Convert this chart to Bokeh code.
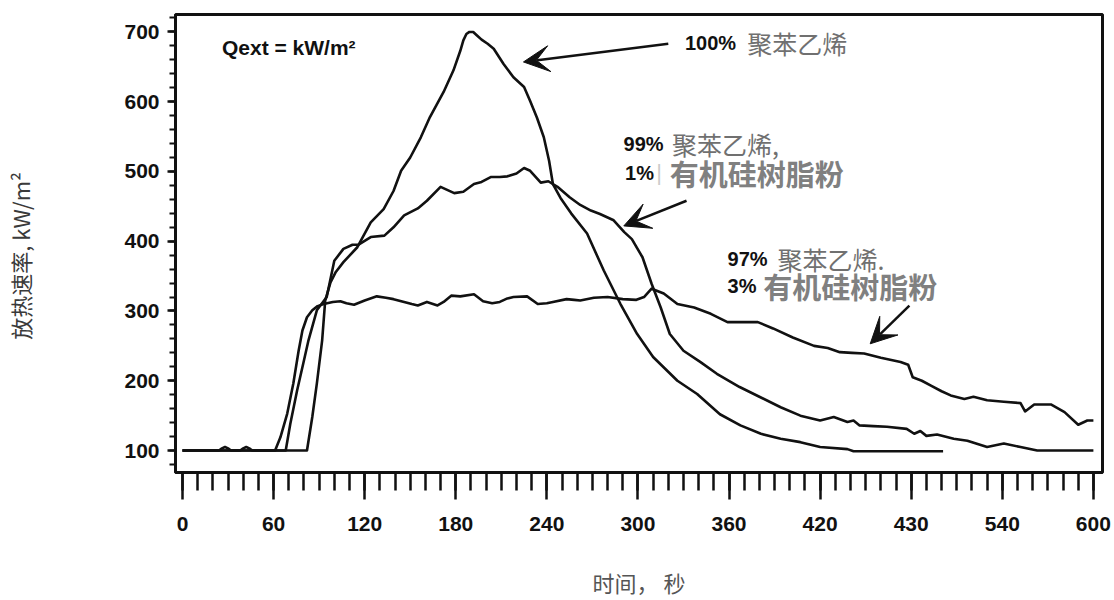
from math import pi
from bokeh.plotting import figure
from bokeh.models import Range1d, SingleIntervalTicker, Label, Arrow, VeeHead
from bokeh.embed import file_html
from bokeh.resources import INLINE

# ---- data (time in s, heat release rate in kW/m2) ----
t100 = [0, 82, 85.5, 88.5, 92, 94, 97.5, 101, 106, 115,
        124, 132.5, 139, 144, 150, 157, 163, 172, 178.5, 183,
        185, 187, 189, 191.5, 194, 197, 201, 205, 211.5, 218,
        225, 229, 233.5, 238, 241.5, 244, 249, 256, 266.5, 277.5,
        288.5, 299.5, 310, 326, 339, 354, 367.5, 381, 394, 407,
        420, 438, 442, 501]
q100 = [100, 100, 148, 196, 258, 315, 341, 356, 370, 391,
        427, 446, 472, 501, 520, 549, 578, 614, 645, 673,
        688, 697, 700, 700, 695, 689, 683, 676, 654, 635,
        621, 601, 577, 549, 515, 482, 462, 440, 411, 358,
        310, 267, 234, 200, 181, 152, 136, 124, 117, 112,
        105, 102, 99, 99]

t99 = [0, 68, 71, 75.5, 80, 83, 88.5, 95, 100, 106,
       112, 116, 124, 133, 139, 146, 155, 161, 170, 179,
       185, 192, 197, 203, 209, 214, 220, 225, 229, 236,
       241, 247, 255, 262, 269, 275, 284, 291, 296, 303,
       309, 315, 321, 330, 341, 352, 367, 381, 394, 407,
       420, 429, 438, 442, 446, 455, 464, 477, 482, 486,
       490, 497, 508, 517, 530, 541, 552, 563, 600]
q99 = [100, 100, 138, 186, 229, 258, 301, 320, 372, 389,
       395, 395, 406, 408, 420, 437, 447, 458, 478, 469,
       471, 482, 485, 492, 492, 493, 497, 505, 501, 484,
       486, 478, 463, 452, 444, 439, 430, 413, 403, 377,
       339, 305, 267, 243, 227, 210, 191, 176, 162, 150,
       143, 148, 141, 143, 136, 135, 134, 131, 124, 128,
       121, 123, 117, 114, 105, 110, 105, 100, 100]

t97 = [0, 24, 26, 28, 30, 32, 38, 40, 42, 44,
       46, 61, 64.5, 69, 73, 76.5, 79, 82, 85.5, 89,
       93, 99, 104, 108, 113, 120, 128, 134, 139, 146,
       151, 155, 161, 168, 172, 177, 183, 192, 198, 204,
       209, 214, 218, 227, 234, 240, 244, 253, 258, 262,
       271, 280, 290, 299, 304, 309, 317, 326, 337, 348,
       359, 369, 379, 389, 402, 416, 425, 433, 441, 449,
       460, 473, 478, 481, 487, 493, 500, 506, 515, 521,
       530, 541, 552, 555, 561, 572, 581, 590, 596, 600]
q97 = [100, 100, 103, 105, 103, 100, 100, 103, 105, 103,
       100, 100, 119, 153, 196, 243, 272, 291, 301, 307,
       310, 313, 314, 311, 309, 315, 321, 319, 317, 313,
       310, 308, 313, 308, 313, 322, 321, 324, 314, 311,
       313, 318, 320, 321, 310, 311, 313, 317, 316, 315,
       319, 320, 317, 316, 320, 332, 325, 310, 305, 296,
       284, 284, 284, 275, 262, 250, 247, 241, 240, 239,
       233, 227, 223, 205, 200, 193, 185, 179, 174, 177,
       172, 170, 168, 156, 166, 166, 155, 137, 143, 143]

x_tick_overrides = {480: "430"}
x_label = "时间， 秒"
y_label = "放热速率, kW/m²"
qext_text = "Qext = kW/m²"

NUM_FONT = "Liberation Sans"
CJK_FONT = "Noto Sans CJK SC"

p = figure(width=1114, height=600, output_backend="svg", toolbar_location=None,
           x_range=Range1d(-4.6, 606), y_range=Range1d(68.5, 725),
           min_border_left=175, min_border_right=12, min_border_top=14,
           min_border_bottom=128)
p.background_fill_color = "white"
p.border_fill_color = "white"
p.xgrid.visible = False
p.ygrid.visible = False
p.outline_line_color = "#111"
p.outline_line_width = 3

for t, q in ((t100, q100), (t99, q99), (t97, q97)):
    p.line(t, q, line_width=2.6, line_color="#111", line_join="round")

# axes
xa = p.xaxis[0]
xa.ticker = SingleIntervalTicker(interval=60, num_minor_ticks=6)
xa.major_label_overrides = x_tick_overrides
xa.axis_line_width = 3
xa.axis_line_color = "#111"
xa.major_tick_in = 0
xa.minor_tick_in = 0
xa.major_tick_out = 27
xa.minor_tick_out = 18
xa.major_tick_line_width = 2.5
xa.minor_tick_line_width = 2.5
xa.major_tick_line_color = "#111"
xa.minor_tick_line_color = "#111"
xa.major_label_standoff = 17
xa.major_label_text_font = NUM_FONT
xa.major_label_text_font_style = "bold"
xa.major_label_text_font_size = "21px"
xa.major_label_text_color = "#111"
xa.axis_label = x_label
xa.axis_label_text_font = CJK_FONT
xa.axis_label_text_font_style = "normal"
xa.axis_label_text_font_size = "22px"
xa.axis_label_text_color = "#555"
xa.axis_label_standoff = 32

ya = p.yaxis[0]
ya.ticker = SingleIntervalTicker(interval=100, num_minor_ticks=5)
ya.axis_line_width = 3
ya.axis_line_color = "#111"
ya.major_tick_in = 0
ya.minor_tick_in = 0
ya.major_tick_out = 8
ya.minor_tick_out = 6
ya.major_tick_line_width = 2.5
ya.minor_tick_line_width = 2
ya.major_tick_line_color = "#111"
ya.minor_tick_line_color = "#111"
ya.major_label_standoff = 8
ya.major_label_text_font = NUM_FONT
ya.major_label_text_font_style = "bold"
ya.major_label_text_font_size = "21px"
ya.major_label_text_color = "#111"
ya.axis_label = y_label + "\u00a0" * 5
ya.axis_label_text_font = CJK_FONT
ya.axis_label_text_font_style = "normal"
ya.axis_label_text_font_size = "22px"
ya.axis_label_text_color = "#3a3a3a"
ya.axis_label_standoff = 85


def lab(x, y, text, size, bold=False, color="#111", font=NUM_FONT):
    p.add_layout(Label(x=x, y=y, text=text, text_font=font,
                       text_font_style="bold" if bold else "normal",
                       text_font_size=size, text_color=color,
                       text_baseline="middle", text_align="left"))


# Qext
lab(26, 677, qext_text, "21px", bold=True)

# annotations
lab(331, 684, "100%", "20px", bold=True)
lab(372, 684, "聚苯乙烯", "25px", color="#707070", font=CJK_FONT)

lab(290.5, 540, "99%", "20px", bold=True)
lab(322.5, 540, "聚苯乙烯,", "25px", color="#707070", font=CJK_FONT)
lab(291.5, 498, "1%", "20px", bold=True)
lab(312, 498, "|", "22px", color="#cccccc")
lab(321, 498, "有机硅树脂粉", "29px", bold=True, color="#808080", font=CJK_FONT)

lab(359, 374, "97%", "20px", bold=True)
lab(392, 374, "聚苯乙烯.", "25px", color="#707070", font=CJK_FONT)
lab(359, 336, "3%", "20px", bold=True)
lab(382.5, 336, "有机硅树脂粉", "29px", bold=True, color="#808080", font=CJK_FONT)

# arrows
for xs, ys, xe, ye in ((320, 683, 224.6, 657), (332, 458, 290.7, 422), (478.8, 307.7, 453, 253)):
    p.add_layout(Arrow(end=VeeHead(size=26, fill_color="#111", line_color="#111"),
                       x_start=xs, y_start=ys, x_end=xe, y_end=ye,
                       line_width=2.5, line_color="#111"))

open("out.html", "w").write(file_html(p, INLINE))
